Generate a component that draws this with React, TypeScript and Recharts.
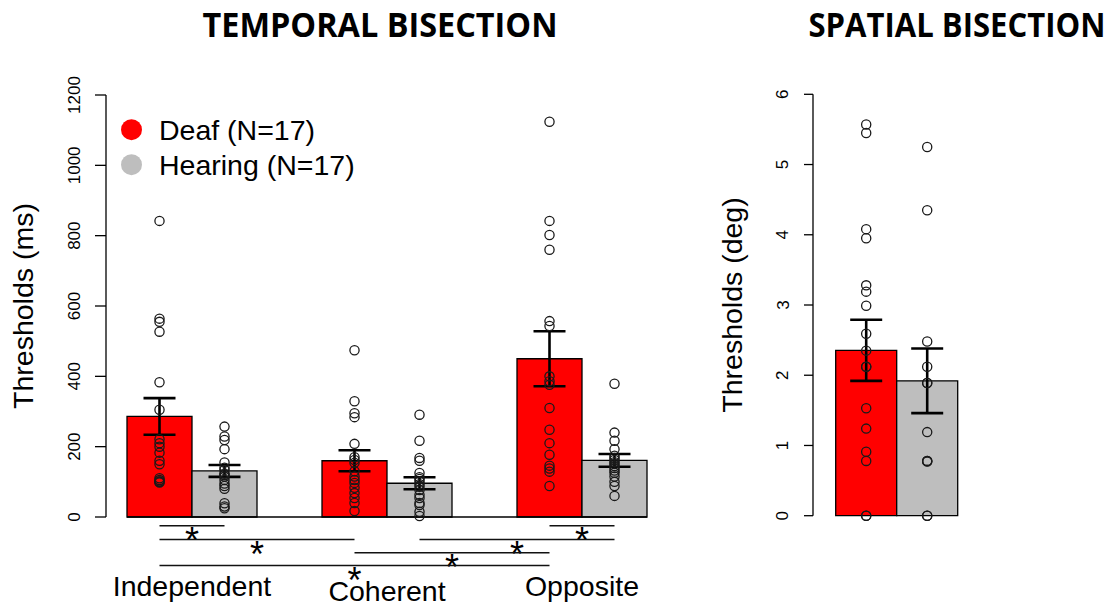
import React from 'react';
import { ComposedChart, Bar, XAxis, YAxis, Scatter, ErrorBar, ReferenceLine, Legend } from 'recharts';

const FONT = '"Liberation Sans", Arial, Helvetica, sans-serif';
const TITLE_FONT = '"Open Sans", "Liberation Sans", sans-serif';
const RED = '#ff0000';
const GRAY = '#bebebe';
const INK = '#111111';

// ---------------- Temporal bisection data ----------------
const conditions = ['Independent', 'Coherent', 'Opposite'];
const deafMeans = [286, 160, 450];
const hearingMeans = [131, 96, 161];
const deafSE = [52, 30, 78];
const hearingSE = [17, 17, 18];
const temporalTicks = [0, 200, 400, 600, 800, 1000, 1200];

const deafIndependent = [842, 564, 555, 527, 383, 305, 221, 210, 200, 183, 160, 150, 110, 105, 101, 100, 98];
const hearingIndependent = [257, 229, 219, 193, 155, 140, 134, 124, 120, 115, 105, 95, 88, 80, 39, 30, 25];
const deafCoherent = [474, 329, 295, 284, 208, 170, 162, 154, 130, 115, 105, 97, 83, 68, 54, 40, 17];
const hearingCoherent = [291, 217, 168, 160, 125, 113, 108, 101, 93, 86, 77, 63, 54, 40, 34, 15, 3];
const deafOpposite = [1124, 842, 802, 760, 557, 543, 400, 386, 376, 310, 248, 210, 177, 146, 138, 129, 88];
const hearingOpposite = [379, 240, 217, 193, 174, 168, 162, 156, 151, 145, 139, 132, 126, 115, 100, 88, 60];

// significance comparisons (condition, group) -> (condition, group), drawn at a level below zero
const comparisons = [
  { from: ['Independent', 'deaf'], to: ['Independent', 'hearing'], level: -25 },
  { from: ['Opposite', 'deaf'], to: ['Opposite', 'hearing'], level: -25 },
  { from: ['Independent', 'deaf'], to: ['Coherent', 'deaf'], level: -64 },
  { from: ['Coherent', 'hearing'], to: ['Opposite', 'hearing'], level: -64 },
  { from: ['Coherent', 'deaf'], to: ['Opposite', 'deaf'], level: -102 },
  { from: ['Independent', 'deaf'], to: ['Opposite', 'deaf'], level: -138 },
];

// ---------------- Spatial bisection data ----------------
const spatialTask = ['Spatial'];
const spatialDeafMean = [2.355];
const spatialHearingMean = [1.92];
const spatialDeafSE = [0.435];
const spatialHearingSE = [0.46];
const spatialTicks = [0, 1, 2, 3, 4, 5, 6];
const spatialDeaf = [5.57, 5.45, 4.08, 3.95, 3.28, 3.19, 2.99, 2.59, 2.35, 2.12, 2.12, 1.53, 1.24, 0.91, 0.78, 0, 0];
const spatialHearing = [5.25, 4.35, 2.48, 2.12, 1.89, 1.89, 1.19, 0.78, 0.78, 0.77, 0, 0];

// ---------------- derived tables ----------------
const gapT = 1 / 6; // barCategoryGap fraction on each side of a category band
const dodgeT = (1 - 2 * gapT) / 4; // offset of each bar centre from band centre
const temporalData = conditions.map((c, i) => ({
  condition: c,
  deaf: deafMeans[i],
  hearing: hearingMeans[i],
  deafSE: deafSE[i],
  hearingSE: hearingSE[i],
}));
const posOf = (cond: string, grp: string) =>
  conditions.indexOf(cond) + 0.5 + (grp === 'deaf' ? -dodgeT : dodgeT);
const temporalDeafDots = [deafIndependent, deafCoherent, deafOpposite].flatMap((vals, i) =>
  vals.map((v) => ({ px: posOf(conditions[i], 'deaf'), v }))
);
const temporalHearingDots = [hearingIndependent, hearingCoherent, hearingOpposite].flatMap((vals, i) =>
  vals.map((v) => ({ px: posOf(conditions[i], 'hearing'), v }))
);

const gapS = 0.1356;
const dodgeS = (1 - 2 * gapS) / 4;
const spatialData = spatialTask.map((t, i) => ({
  task: t,
  deaf: spatialDeafMean[i],
  hearing: spatialHearingMean[i],
  deafSE: spatialDeafSE[i],
  hearingSE: spatialHearingSE[i],
}));
const spatialDeafDots = spatialDeaf.map((v) => ({ px: 0.5 - dodgeS, v }));
const spatialHearingDots = spatialHearing.map((v) => ({ px: 0.5 + dodgeS, v }));

// ---------------- render helpers ----------------
const YTick = (props: any) => {
  const { x, y, payload } = props;
  return (
    <text x={x} y={y} transform={`rotate(-90 ${x} ${y})`} textAnchor="middle" fontFamily={FONT} fontSize={17} fill="#000">
      {payload.value}
    </text>
  );
};

const XTick = (props: any) => {
  const { x, y, payload } = props;
  const drop = payload.value === 'Coherent' ? 84 : 79;
  return (
    <text x={x} y={y + drop} textAnchor="middle" fontFamily={FONT} fontSize={28.5} fill="#000">
      {payload.value}
    </text>
  );
};

const yTitle = (text: string, dx: number) => (props: any) => {
  const vb = props.viewBox || {};
  const cx = (vb.x || 0) + dx;
  const cy = (vb.y || 0) + (vb.height || 0) / 2;
  return (
    <text x={cx} y={cy} transform={`rotate(-90 ${cx} ${cy})`} textAnchor="middle" fontFamily={FONT} fontSize={28.5} fill="#000">
      {text}
    </text>
  );
};

const OpenDot = (p: any) => (
  <circle cx={p.cx} cy={p.cy} r={4.6} fill="none" stroke="#1a1a1a" strokeWidth={1.3} />
);

const SigLine = (p: any) => {
  const { x1, y1, x2, y2 } = p;
  if ([x1, y1, x2, y2].some((v) => typeof v !== 'number' || isNaN(v))) return null;
  return (
    <g>
      <line x1={x1} y1={y1} x2={x2} y2={y2} stroke={INK} strokeWidth={1.5} />
      <text x={(x1 + x2) / 2} y={y1 + 27} textAnchor="middle" fontFamily={FONT} fontSize={36} fill="#000">
        *
      </text>
    </g>
  );
};

const LegendBox = (props: any) => {
  const items = (props.payload && props.payload.length ? props.payload : [
    { value: 'Deaf (N=17)', color: RED },
    { value: 'Hearing (N=17)', color: GRAY },
  ]).slice(0, 2);
  return (
    <svg width={260} height={80} style={{ display: 'block' }}>
      {items.map((it: any, i: number) => (
        <g key={i}>
          <circle cx={21.5} cy={24.7 + i * 35} r={10.5} fill={it.color} />
          <text x={49} y={35 + i * 35} fontFamily={FONT} fontSize={28.5} fill="#000">
            {it.value}
          </text>
        </g>
      ))}
    </svg>
  );
};

const barStroke = { stroke: '#000', strokeWidth: 1.3 };

export default function App() {
  return (
    <div style={{ position: 'absolute', left: 0, top: 0, width: 1116, height: 602, background: '#fff', overflow: 'hidden' }}>
      <svg style={{ position: 'absolute', left: 0, top: 0 }} width={1116} height={60}>
        <text x={380} y={36.7} textAnchor="middle" textLength={355} lengthAdjust="spacingAndGlyphs" fontFamily={TITLE_FONT} fontWeight={700} fontSize={33.6} fill="#000">
          TEMPORAL BISECTION
        </text>
        <text x={957} y={36.7} textAnchor="middle" textLength={297} lengthAdjust="spacingAndGlyphs" fontFamily={TITLE_FONT} fontWeight={700} fontSize={33.6} fill="#000">
          SPATIAL BISECTION
        </text>
      </svg>

      <div style={{ position: 'absolute', left: 0, top: 0 }}>
        <ComposedChart
          width={700}
          height={602}
          data={temporalData}
          margin={{ top: 95, right: 32, bottom: 55, left: 0 }}
          barGap={0}
          barCategoryGap={`${gapT * 100}%`}
        >
          <XAxis
            xAxisId="cat"
            dataKey="condition"
            type="category"
            padding={{ left: -11.5, right: -11.5 }}
            axisLine={false}
            tickLine={false}
            tickSize={0}
            tickMargin={0}
            height={30}
            interval={0}
            tick={XTick}
          />
          <XAxis
            xAxisId="pos"
            dataKey="px"
            type="number"
            domain={[0, conditions.length]}
            allowDataOverflow
            padding={{ left: -11.5, right: -11.5 }}
            hide
          />
          <YAxis
            type="number"
            domain={[0, 1200]}
            ticks={temporalTicks}
            interval={0}
            width={106}
            tickSize={11}
            tickMargin={15}
            axisLine={{ stroke: '#000', strokeWidth: 1.3 }}
            tickLine={{ stroke: '#000', strokeWidth: 1.3 }}
            tick={YTick}
            label={yTitle('Thresholds (ms)', 33)}
          />
          <Legend
            layout="vertical"
            align="center"
            verticalAlign="middle"
            width={260}
            height={80}
            content={LegendBox}
            wrapperStyle={{ left: 110, top: 105, width: 260, height: 80 }}
          />
          <Bar xAxisId="cat" dataKey="deaf" name="Deaf (N=17)" fill={RED} {...barStroke} isAnimationActive={false}>
            <ErrorBar dataKey="deafSE" width={16} stroke="#000" strokeWidth={2.6} direction="y" />
          </Bar>
          <Bar xAxisId="cat" dataKey="hearing" name="Hearing (N=17)" fill={GRAY} {...barStroke} isAnimationActive={false}>
            <ErrorBar dataKey="hearingSE" width={16} stroke="#000" strokeWidth={2.6} direction="y" />
          </Bar>
          <ReferenceLine
            xAxisId="pos"
            segment={[
              { x: 0.5 - 2 * dodgeT, y: 0 },
              { x: conditions.length - 0.5 + 2 * dodgeT, y: 0 },
            ]}
            stroke="#000"
            strokeWidth={1.3}
            ifOverflow="visible"
          />
          <Scatter xAxisId="pos" data={temporalDeafDots} dataKey="v" shape={OpenDot} isAnimationActive={false} legendType="none" />
          <Scatter xAxisId="pos" data={temporalHearingDots} dataKey="v" shape={OpenDot} isAnimationActive={false} legendType="none" />
          {comparisons.map((c, i) => (
            <ReferenceLine
              key={i}
              xAxisId="pos"
              segment={[
                { x: posOf(c.from[0], c.from[1]), y: c.level },
                { x: posOf(c.to[0], c.to[1]), y: c.level },
              ]}
              ifOverflow="visible"
              shape={SigLine}
            />
          ))}
        </ComposedChart>
      </div>

      <div style={{ position: 'absolute', left: 700, top: 0 }}>
        <ComposedChart
          width={416}
          height={602}
          data={spatialData}
          margin={{ top: 94.3, right: 135.6, bottom: 86.3, left: 0 }}
          barGap={0}
          barCategoryGap={`${gapS * 100}%`}
        >
          <XAxis xAxisId="cat" dataKey="task" type="category" hide />
          <XAxis xAxisId="pos" dataKey="px" type="number" domain={[0, 1]} allowDataOverflow hide />
          <YAxis
            type="number"
            domain={[0, 6]}
            ticks={spatialTicks}
            interval={0}
            width={113}
            tickSize={9}
            tickMargin={15.5}
            axisLine={{ stroke: '#000', strokeWidth: 1.3 }}
            tickLine={{ stroke: '#000', strokeWidth: 1.3 }}
            tick={YTick}
            label={yTitle('Thresholds (deg)', 42)}
          />
          <Bar xAxisId="cat" dataKey="deaf" name="Deaf (N=17)" fill={RED} {...barStroke} isAnimationActive={false}>
            <ErrorBar dataKey="deafSE" width={16} stroke="#000" strokeWidth={2.6} direction="y" />
          </Bar>
          <Bar xAxisId="cat" dataKey="hearing" name="Hearing (N=17)" fill={GRAY} {...barStroke} isAnimationActive={false}>
            <ErrorBar dataKey="hearingSE" width={16} stroke="#000" strokeWidth={2.6} direction="y" />
          </Bar>
          <Scatter xAxisId="pos" data={spatialDeafDots} dataKey="v" shape={OpenDot} isAnimationActive={false} legendType="none" />
          <Scatter xAxisId="pos" data={spatialHearingDots} dataKey="v" shape={OpenDot} isAnimationActive={false} legendType="none" />
        </ComposedChart>
      </div>
    </div>
  );
}
